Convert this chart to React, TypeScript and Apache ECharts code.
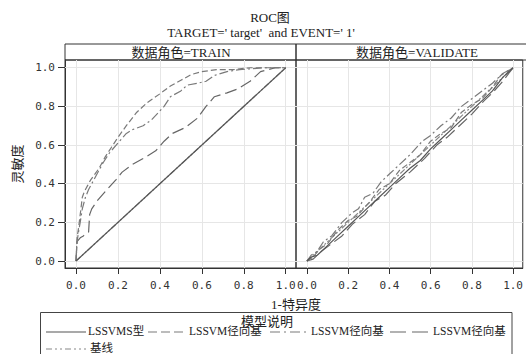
import React, { useEffect, useRef } from "react";
import * as echarts from "echarts";

const TITLE = "ROC图";
const SUBTITLE = "TARGET=' target'  and EVENT=' 1'";
const PANELS = ["数据角色=TRAIN", "数据角色=VALIDATE"];
const X_NAME = "1-特异度";
const Y_NAME = "灵敏度";
const LEGEND_TITLE = "模型说明";
const X_TICKS = [0, 0.2, 0.4, 0.6, 0.8, 1.0];
const Y_TICKS = [0, 0.2, 0.4, 0.6, 0.8, 1.0];

const SERIES_NAMES = ["LSSVMS型", "LSSVM径向基", "LSSVM径向基", "LSSVM径向基", "基线"];

// TRAIN panel
const trainSolid = [[0, 0], [1, 1]];
const trainDashed = [
  [0, 0], [0.005, 0.12], [0.012, 0.17], [0.02, 0.24], [0.03, 0.33], [0.04, 0.36], [0.055, 0.39],
  [0.07, 0.42], [0.09, 0.45], [0.11, 0.48], [0.14, 0.54], [0.17, 0.59], [0.2, 0.64], [0.24, 0.7],
  [0.29, 0.77], [0.34, 0.82], [0.4, 0.865], [0.45, 0.905], [0.5, 0.935], [0.55, 0.965], [0.6, 0.98],
  [0.67, 0.99], [0.75, 0.99], [0.83, 1.0], [1, 1],
];
const trainDashDot = [
  [0, 0], [0.005, 0.1], [0.012, 0.15], [0.02, 0.2], [0.03, 0.27], [0.045, 0.33], [0.06, 0.37],
  [0.08, 0.41], [0.1, 0.45], [0.13, 0.51], [0.16, 0.56], [0.2, 0.61], [0.24, 0.66], [0.27, 0.68],
  [0.32, 0.7], [0.36, 0.73], [0.42, 0.8], [0.45, 0.85], [0.5, 0.88], [0.53, 0.91], [0.58, 0.92],
  [0.62, 0.93], [0.66, 0.96], [0.72, 0.98], [0.78, 0.99], [0.9, 1.0], [1, 1],
];
const trainLongDash = [
  [0, 0], [0.005, 0.1], [0.02, 0.12], [0.035, 0.13], [0.06, 0.15], [0.065, 0.24], [0.075, 0.27],
  [0.1, 0.31], [0.14, 0.36], [0.19, 0.42], [0.22, 0.46], [0.27, 0.5], [0.32, 0.53], [0.38, 0.57],
  [0.42, 0.62], [0.46, 0.66], [0.52, 0.69], [0.58, 0.74], [0.62, 0.8], [0.66, 0.85], [0.72, 0.87],
  [0.77, 0.89], [0.83, 0.93], [0.88, 0.98], [0.95, 1.0], [1, 1],
];
const trainBase = [[0, 0], [1, 1]];

// VALIDATE panel
const valSolid = [
  [0, 0], [0.02, 0.02], [0.05, 0.03], [0.1, 0.08], [0.15, 0.13], [0.2, 0.18], [0.25, 0.23],
  [0.3, 0.28], [0.35, 0.33], [0.4, 0.38], [0.45, 0.43], [0.5, 0.48], [0.55, 0.52], [0.6, 0.58],
  [0.65, 0.63], [0.7, 0.68], [0.75, 0.73], [0.8, 0.78], [0.85, 0.83], [0.9, 0.88], [0.95, 0.95], [1, 1],
];
const valDashed = [
  [0, 0], [0.03, 0.02], [0.06, 0.06], [0.1, 0.09], [0.15, 0.16], [0.2, 0.21], [0.24, 0.23],
  [0.3, 0.3], [0.35, 0.37], [0.4, 0.4], [0.45, 0.47], [0.5, 0.51], [0.55, 0.55], [0.6, 0.62],
  [0.65, 0.66], [0.7, 0.69], [0.75, 0.77], [0.8, 0.81], [0.85, 0.84], [0.9, 0.9], [0.94, 0.96], [1, 1],
];
const valDashDot = [
  [0, 0], [0.02, 0.03], [0.05, 0.05], [0.08, 0.1], [0.12, 0.13], [0.17, 0.2], [0.22, 0.25],
  [0.25, 0.27], [0.28, 0.33], [0.32, 0.35], [0.36, 0.41], [0.4, 0.45], [0.45, 0.5], [0.5, 0.55],
  [0.56, 0.62], [0.6, 0.65], [0.65, 0.7], [0.7, 0.74], [0.75, 0.8], [0.8, 0.84], [0.85, 0.88],
  [0.9, 0.92], [0.95, 0.97], [1, 1],
];
const valLongDash = [
  [0, 0], [0.03, 0.01], [0.07, 0.05], [0.12, 0.09], [0.17, 0.13], [0.22, 0.19], [0.28, 0.24],
  [0.33, 0.31], [0.38, 0.34], [0.43, 0.4], [0.5, 0.46], [0.57, 0.53], [0.63, 0.6], [0.68, 0.64],
  [0.74, 0.7], [0.8, 0.76], [0.86, 0.83], [0.9, 0.87], [0.95, 0.93], [1, 1],
];
const valBase = [[0, 0], [1, 1]];

const SERIF = "'Liberation Serif', 'Noto Sans CJK SC', serif";
const MONO = "'DejaVu Sans Mono', monospace";

const STYLES: { color: string; type: any; width: number }[] = [
  { color: "#555", type: "solid", width: 1.2 },
  { color: "#7a7a7a", type: [6, 3], width: 1.2 },
  { color: "#7a7a7a", type: [9, 3, 2, 3], width: 1.2 },
  { color: "#666", type: [12, 5], width: 1.2 },
  { color: "#888", type: [6, 2, 2, 2, 2, 2], width: 1.2 },
];

export default function App() {
  const ref = useRef<HTMLDivElement>(null);
  useEffect(() => {
    if (!ref.current) return;
    const chart = echarts.init(ref.current, undefined, { renderer: "svg" });
    const fmt = (v: number) => v.toFixed(1);
    const panelData = [
      [trainSolid, trainDashed, trainDashDot, trainLongDash, trainBase],
      [valSolid, valDashed, valDashDot, valLongDash, valBase],
    ];
    const series: any[] = [];
    panelData.forEach((sets, p) => {
      // baseline first (drawn underneath), carrying the grid lines
      const order = [4, 3, 2, 1, 0];
      order.forEach((i) => {
        const s: any = {
          type: "line",
          name: SERIES_NAMES[i],
          xAxisIndex: p,
          yAxisIndex: p,
          data: sets[i],
          showSymbol: false,
          symbol: "none",
          silent: true,
          z: 3,
          lineStyle: { color: STYLES[i].color, type: STYLES[i].type, width: STYLES[i].width },
        };
        if (i === 4) {
          s.markLine = {
            silent: true,
            symbol: "none",
            z: 1,
            label: { show: false },
            lineStyle: { color: "#e6e6e6", type: "solid", width: 1 },
            data: [
              ...X_TICKS.map((v) => ({ xAxis: v })),
              ...Y_TICKS.map((v) => ({ yAxis: v })),
            ],
          };
        }
        series.push(s);
      });
    });

    const xAxisBase = (idx: number, min: number, max: number) => ({
      type: "value",
      gridIndex: idx,
      min,
      max,
      axisLine: { show: true, onZero: false, lineStyle: { color: "#333", width: 1 } },
      axisTick: { show: true, length: 6, customValues: X_TICKS, lineStyle: { color: "#333" } },
      axisLabel: {
        customValues: X_TICKS,
        formatter: fmt,
        margin: 12,
        fontFamily: MONO,
        fontSize: 11,
        color: "#333",
      },
      splitLine: { show: false },
    });

    const legendItems = [
      { x1: 46, x2: 86, tx: 88, y: 331, i: 0 },
      { x1: 148, x2: 187, tx: 189, y: 331, i: 1 },
      { x1: 270, x2: 308, tx: 311, y: 331, i: 2 },
      { x1: 390, x2: 430, tx: 433, y: 331, i: 3 },
      { x1: 46, x2: 86, tx: 90, y: 348, i: 4 },
    ];
    const legendDash: any[] = ["solid", [9, 4], [10, 4, 2, 4], [16, 6], [6, 3, 2, 3, 2, 3]];

    const graphics: any[] = [
      { type: "text", x: 270, y: 17, style: { text: TITLE, fontFamily: SERIF, fontSize: 13, fill: "#222", align: "center", verticalAlign: "middle" } },
      { type: "text", x: 261, y: 32, style: { text: SUBTITLE, fontFamily: SERIF, fontSize: 13, fill: "#222", align: "center", verticalAlign: "middle" } },
      { type: "rect", shape: { x: 65, y: 44, width: 231, height: 16 }, style: { fill: "none", stroke: "#333", lineWidth: 1 } },
      { type: "rect", shape: { x: 296, y: 44, width: 240, height: 16 }, style: { fill: "none", stroke: "#333", lineWidth: 1 } },
      { type: "text", x: 181, y: 52, style: { text: PANELS[0], fontFamily: SERIF, fontSize: 13, fill: "#222", align: "center", verticalAlign: "middle" } },
      { type: "text", x: 417, y: 52, style: { text: PANELS[1], fontFamily: SERIF, fontSize: 13, fill: "#222", align: "center", verticalAlign: "middle" } },
      { type: "text", x: 296, y: 304, style: { text: X_NAME, fontFamily: SERIF, fontSize: 13, fill: "#222", align: "center", verticalAlign: "middle" } },
      { type: "rect", shape: { x: 40.5, y: 312.5, width: 471.5, height: 60 }, style: { fill: "none", stroke: "#444", lineWidth: 1 } },
      { type: "text", x: 267, y: 321, style: { text: LEGEND_TITLE, fontFamily: SERIF, fontSize: 13, fill: "#222", align: "center", verticalAlign: "middle" } },
    ];
    legendItems.forEach((it, k) => {
      graphics.push({
        type: "line",
        shape: { x1: it.x1, y1: it.y + 1, x2: it.x2, y2: it.y + 1 },
        style: { stroke: STYLES[it.i].color, lineWidth: 1.2, lineDash: legendDash[k] === "solid" ? null : legendDash[k] },
      });
      graphics.push({
        type: "text",
        x: it.tx,
        y: it.y,
        style: { text: SERIES_NAMES[it.i], fontFamily: SERIF, fontSize: 11.5, fill: "#222", align: "left", verticalAlign: "middle" },
      });
    });

    chart.setOption({
      animation: false,
      backgroundColor: "#ffffff",
      grid: [
        { left: 65, top: 60, width: 231, height: 208, show: true, borderColor: "#333", borderWidth: 1, backgroundColor: "transparent", containLabel: false },
        { left: 296, top: 60, width: 232, height: 208, show: true, borderColor: "#333", borderWidth: 1, backgroundColor: "transparent", containLabel: false },
      ],
      xAxis: [xAxisBase(0, -0.0525, 1.049), xAxisBase(1, -0.053, 1.047)],
      yAxis: [
        {
          type: "value",
          gridIndex: 0,
          min: -0.036,
          max: 1.04,
          name: Y_NAME,
          nameLocation: "middle",
          nameGap: 41,
          nameRotate: 90,
          nameTextStyle: { fontFamily: SERIF, fontSize: 13, color: "#222" },
          axisLine: { show: true, onZero: false, lineStyle: { color: "#333", width: 1 } },
          axisTick: { show: true, length: 7, customValues: Y_TICKS, lineStyle: { color: "#333" } },
          axisLabel: { customValues: Y_TICKS, formatter: fmt, margin: 10, fontFamily: MONO, fontSize: 11, color: "#333" },
          splitLine: { show: false },
        },
        {
          type: "value",
          gridIndex: 1,
          min: -0.036,
          max: 1.04,
          axisLine: { show: false, onZero: false },
          axisTick: { show: false },
          axisLabel: { show: false },
          splitLine: { show: false },
        },
      ],
      series,
      graphic: graphics,
    });
    return () => chart.dispose();
  }, []);
  return <div ref={ref} style={{ width: 526, height: 354, position: "absolute", left: 0, top: 0 }} />;
}
